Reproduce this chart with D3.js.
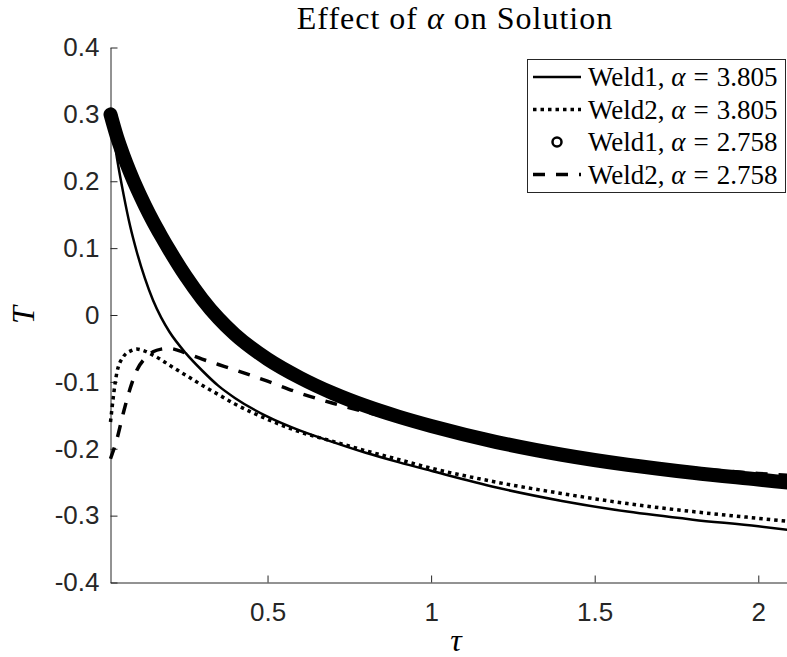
<!DOCTYPE html>
<html>
<head>
<meta charset="utf-8">
<script src="https://cdnjs.cloudflare.com/ajax/libs/d3/7.8.5/d3.min.js"></script>
<style>
body { margin: 0; background: #fff; }
</style>
</head>
<body>
<div id="chart_area"></div>
<script>
// sample points along tau
var tau = [0.02, 0.04, 0.06, 0.08, 0.10, 0.125, 0.15, 0.175, 0.20, 0.25, 0.30, 0.35, 0.40,
           0.50, 0.60, 0.70, 0.80, 0.90, 1.0, 1.2, 1.4, 1.6, 1.8, 2.0, 2.1];
// Weld1, alpha = 3.805 (solid)
var weld1_3805 = [0.300, 0.234, 0.180, 0.133, 0.095, 0.055, 0.022, -0.004, -0.025, -0.057, -0.083, -0.106, -0.124,
                  -0.152, -0.173, -0.190, -0.206, -0.220, -0.233, -0.258, -0.278, -0.294, -0.306, -0.316, -0.322];
// Weld2, alpha = 3.805 (dotted)
var weld2_3805 = [-0.160, -0.085, -0.062, -0.054, -0.051, -0.054, -0.060, -0.067, -0.075, -0.090, -0.105, -0.119, -0.133,
                  -0.156, -0.175, -0.189, -0.203, -0.216, -0.229, -0.250, -0.267, -0.282, -0.294, -0.304, -0.309];
// Weld1, alpha = 2.758 (circle markers, dense)
var weld1_2758 = [0.300, 0.266, 0.238, 0.213, 0.190, 0.164, 0.140, 0.118, 0.097, 0.058, 0.024, -0.005, -0.029,
                  -0.066, -0.094, -0.117, -0.136, -0.152, -0.166, -0.190, -0.209, -0.224, -0.236, -0.246, -0.251];
// Weld2, alpha = 2.758 (dashed)
var weld2_2758 = [-0.215, -0.185, -0.145, -0.110, -0.083, -0.065, -0.055, -0.051, -0.050, -0.057, -0.066, -0.074, -0.082,
                  -0.099, -0.117, -0.132, -0.145, -0.157, -0.168, -0.189, -0.206, -0.219, -0.229, -0.237, -0.240];

var yTicks = [-0.4, -0.3, -0.2, -0.1, 0, 0.1, 0.2, 0.3, 0.4];
var xTicks = [0.5, 1, 1.5, 2];
var legendNames = ["Weld1", "Weld2", "Weld1", "Weld2"];
var legendAlphas = ["3.805", "3.805", "2.758", "2.758"];

var w = 787, h = 657;
var svg = d3.select("#chart_area").append("svg").attr("width", w).attr("height", h);

var x = d3.scaleLinear().domain([0.02, 2.1]).range([110.5, 791]);
var y = d3.scaleLinear().domain([-0.4, 0.4]).range([582.5, 47.5]);

var sansFont = "'Liberation Sans', Arial, sans-serif";
var serifFont = "'Liberation Serif', 'Times New Roman', serif";
var axisColor = "#262626";

// axes (ticks point inward)
var fmt = d => d == 0 ? "0" : String(d).replace("−", "-");
var yAxis = svg.append("g").attr("transform", "translate(" + x.range()[0] + ",0)")
    .call(d3.axisLeft(y).tickValues(yTicks).tickSizeInner(-7).tickSizeOuter(0).tickPadding(11).tickFormat(fmt));
var xAxis = svg.append("g").attr("transform", "translate(0," + y.range()[0] + ")")
    .call(d3.axisBottom(x).tickValues(xTicks).tickSizeInner(-7).tickSizeOuter(0).tickPadding(20).tickFormat(fmt));
[xAxis, yAxis].forEach(a => {
    a.select(".domain").attr("stroke", axisColor);
    a.selectAll(".tick line").attr("stroke", axisColor);
    a.selectAll(".tick text").attr("fill", axisColor).style("font-family", sansFont).style("font-size", "26px");
});

// curves
var line = d3.line().x((d, i) => x(tau[i])).y(d => y(d)).curve(d3.curveMonotoneX);

svg.append("path").attr("d", line(weld1_3805)).attr("fill", "none").attr("stroke", "#000").attr("stroke-width", 2.5);
svg.append("path").attr("d", line(weld2_3805)).attr("fill", "none").attr("stroke", "#000").attr("stroke-width", 3.5)
    .attr("stroke-dasharray", "3.5,4");
svg.append("path").attr("d", line(weld1_2758)).attr("fill", "none").attr("stroke", "#000").attr("stroke-width", 14)
    .attr("stroke-linecap", "round").attr("stroke-linejoin", "round");
svg.append("path").attr("d", line(weld2_2758)).attr("fill", "none").attr("stroke", "#000").attr("stroke-width", 3.5)
    .attr("stroke-dasharray", "12,11");

// title and axis labels
svg.append("text").attr("x", 455).attr("y", 29).attr("text-anchor", "middle")
    .style("font-family", serifFont).style("font-size", "32px").style("letter-spacing", "1px")
    .call(t => {
        t.append("tspan").text("Effect of ");
        t.append("tspan").style("font-style", "italic").text("α");
        t.append("tspan").text(" on Solution");
    });
svg.append("text").attr("transform", "translate(34,315) rotate(-90)").attr("text-anchor", "middle")
    .style("font-family", serifFont).style("font-size", "32px").style("font-style", "italic").text("T");
svg.append("text").attr("x", 456).attr("y", 651).attr("text-anchor", "middle")
    .style("font-family", serifFont).style("font-size", "32px").style("font-style", "italic").text("τ");

// legend
var lg = svg.append("g");
lg.append("rect").attr("x", 527.5).attr("y", 59.5).attr("width", 258).attr("height", 133)
    .attr("fill", "#fff").attr("stroke", axisColor).attr("stroke-width", 1);
var rowY = i => 77 + i * 32.5;
var styles = [
    {w: 2.5, dash: null},
    {w: 3.5, dash: "3.5,4"},
    null,
    {w: 3.5, dash: "12,11"}
];
legendNames.forEach((name, i) => {
    var ry = rowY(i);
    if (styles[i]) {
        lg.append("line").attr("x1", 533).attr("x2", 581).attr("y1", ry).attr("y2", ry)
            .attr("stroke", "#000").attr("stroke-width", styles[i].w)
            .attr("stroke-dasharray", styles[i].dash);
    } else {
        lg.append("circle").attr("cx", 557).attr("cy", ry).attr("r", 4.5)
            .attr("fill", "none").attr("stroke", "#000").attr("stroke-width", 2.5);
    }
    lg.append("text").attr("x", 588).attr("y", ry + 9)
        .style("font-family", serifFont).style("font-size", "27px")
        .call(t => {
            t.append("tspan").text(name + ", ");
            t.append("tspan").style("font-style", "italic").text("α");
            t.append("tspan").attr("dx", 8).text("=");
            t.append("tspan").attr("dx", 8).text(legendAlphas[i]);
        });
});
</script>
</body>
</html>
